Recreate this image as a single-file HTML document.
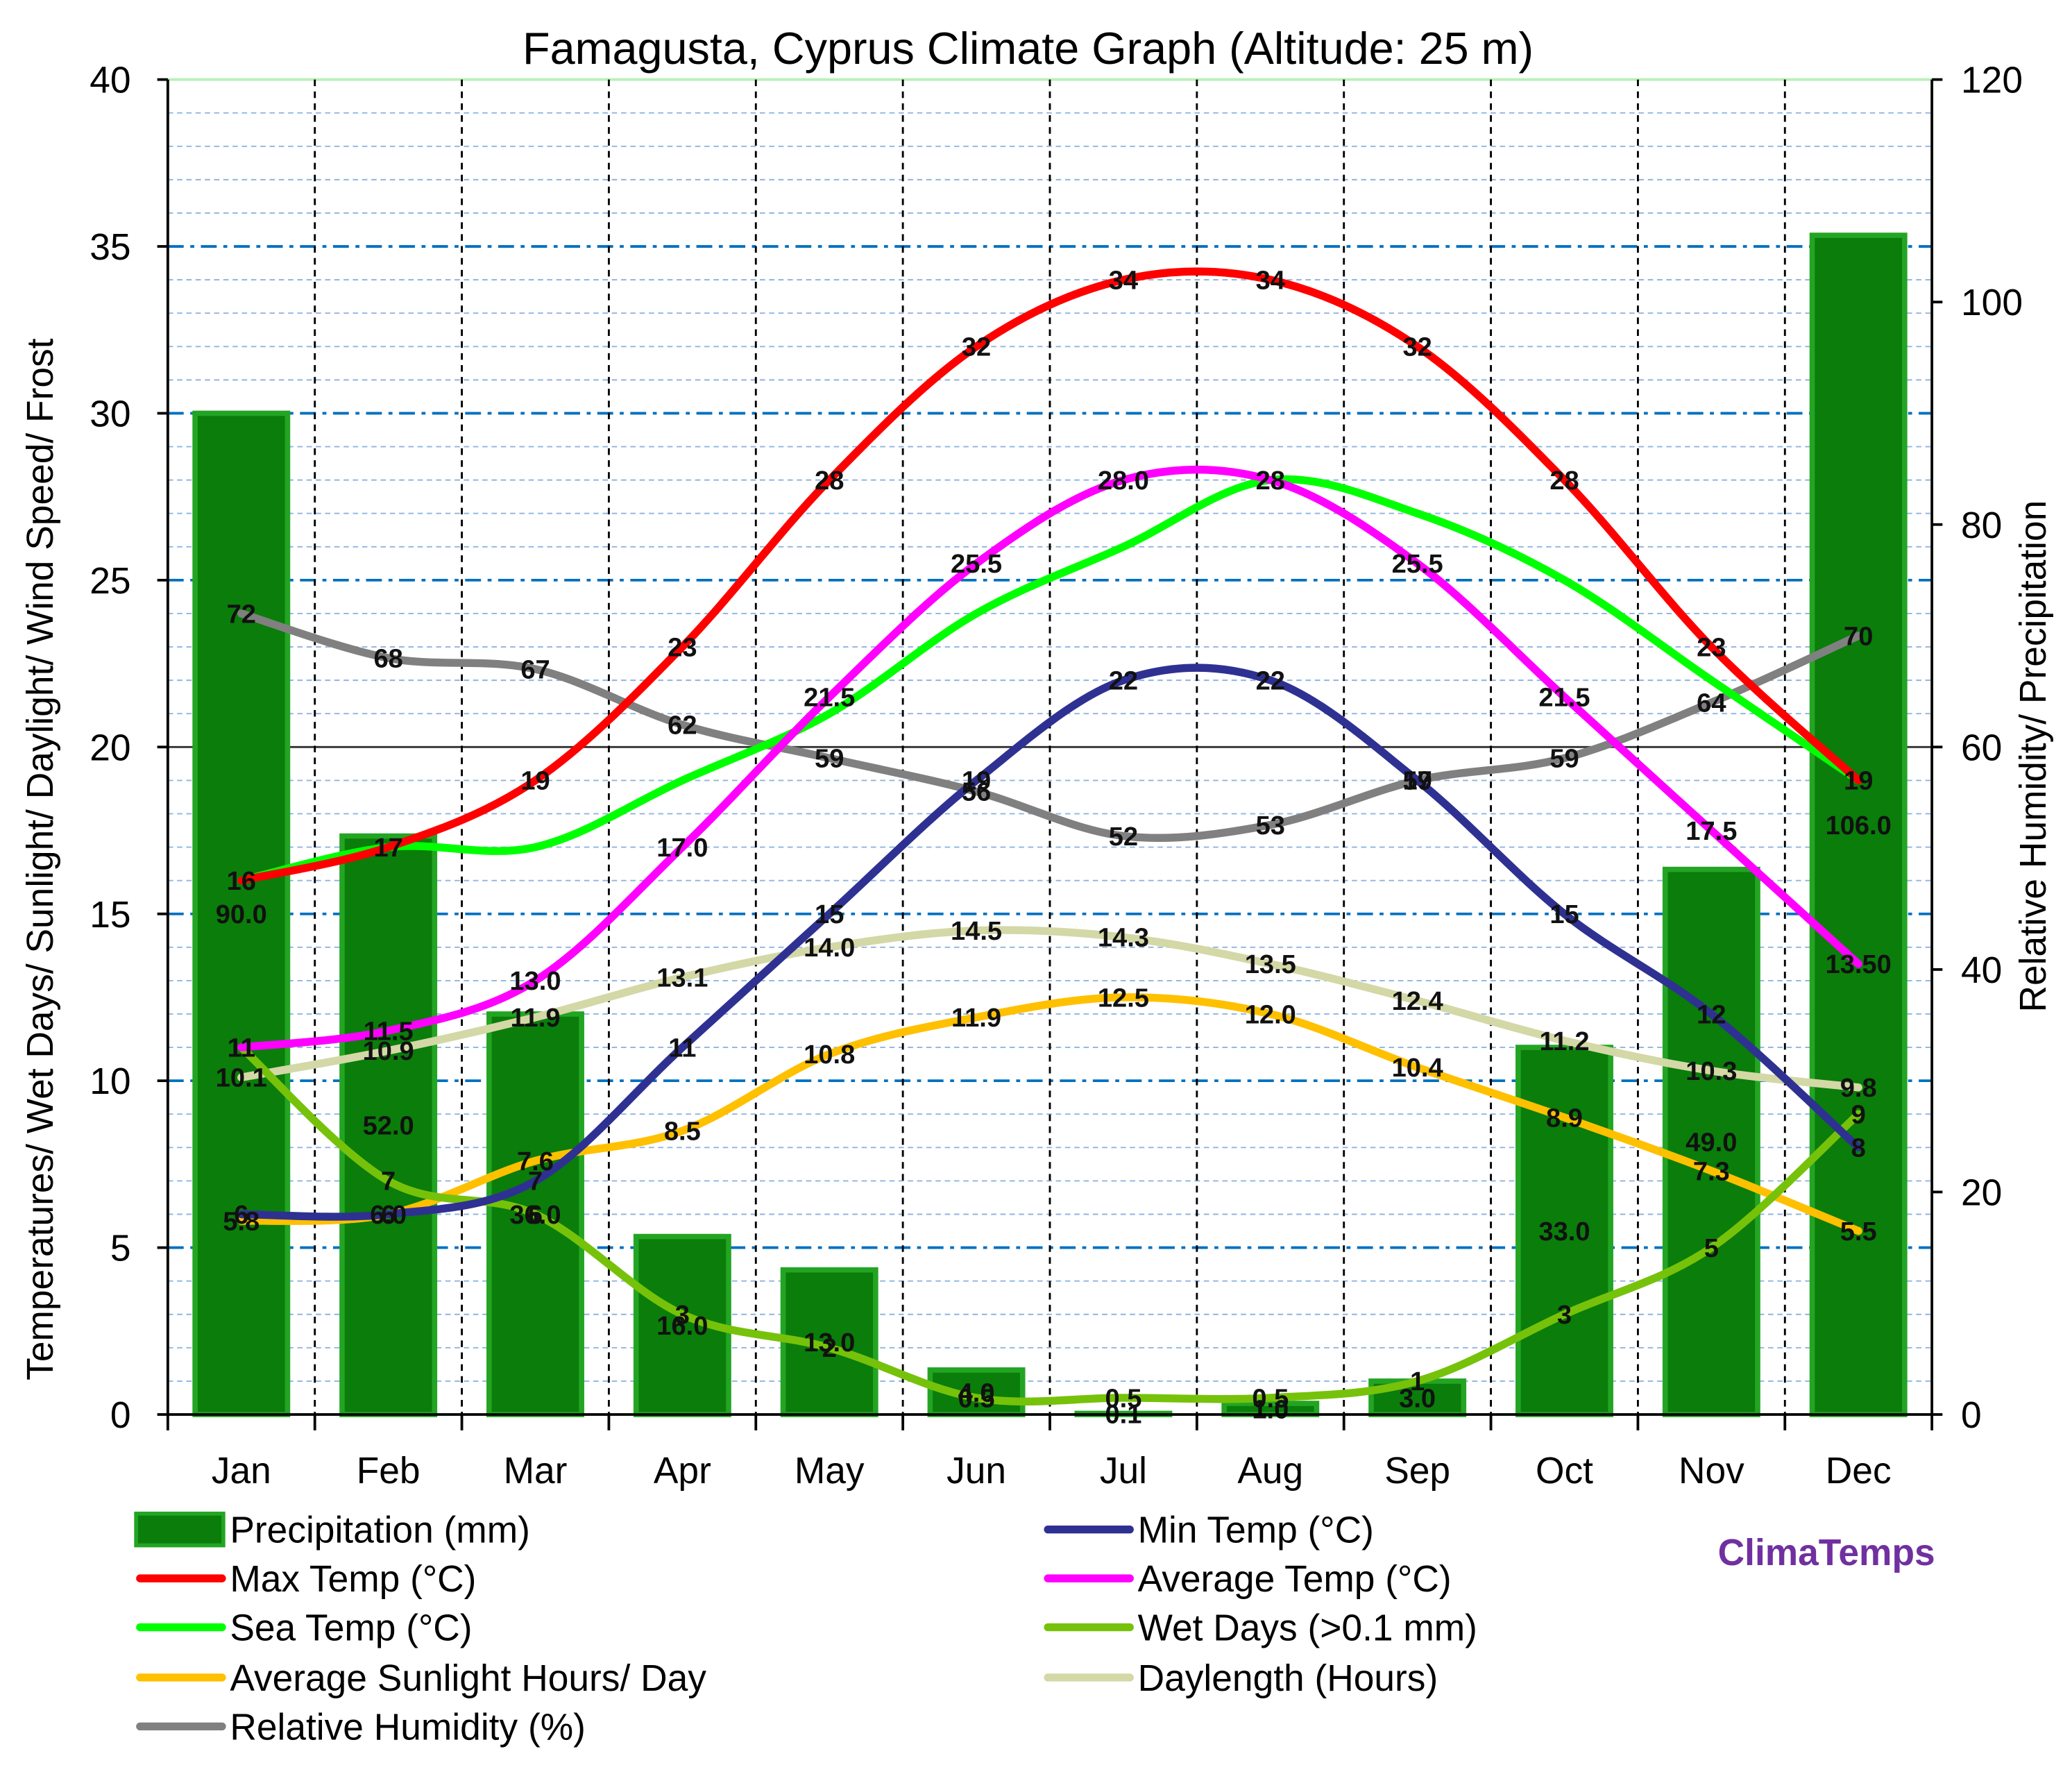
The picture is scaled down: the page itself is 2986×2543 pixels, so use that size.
<!DOCTYPE html>
<html><head><meta charset="utf-8"><style>
html,body{margin:0;padding:0;background:#fff}
svg{display:block}
text{font-family:"Liberation Sans","DejaVu Sans",sans-serif}
</style></head><body>
<svg id="chart" width="2986" height="2543" viewBox="0 0 1568 1335" xmlns="http://www.w3.org/2000/svg">
<rect x="0" y="0" width="1568" height="1335" fill="#fff"/>
<text x="778" y="48" font-size="34" text-anchor="middle" fill="#000">Famagusta, Cyprus Climate Graph (Altitude: 25 m)</text>
<g id="grid"></g><g id="bars"></g><g id="lines"></g><g id="labels"></g><g id="axes"></g>
<text transform="translate(40,650) rotate(-90)" font-size="28" text-anchor="middle">Temperatures/ Wet Days/ Sunlight/ Daylight/ Wind Speed/ Frost</text>
<text transform="translate(1548,572) rotate(-90)" font-size="28" text-anchor="middle">Relative Humidity/ Precipitation</text>
<g id="legend"></g>
<text x="1300" y="1184" font-size="28" font-weight="bold" fill="#7030a0">ClimaTemps</text>
</svg>
<script>
const months=["Jan","Feb","Mar","Apr","May","Jun","Jul","Aug","Sep","Oct","Nov","Dec"];
const precip=[90,52,36,16,13,4,0.1,1,3,33,49,106];
const maxT=[16,17,19,23,28,32,34,34,32,28,23,19];
const minT=[6,6,7,11,15,19,22,22,19,15,12,8];
const avgT=[11,11.5,13.0,17.0,21.5,25.5,28.0,28,25.5,21.5,17.5,13.5];
const seaT=[16,17,17,19,21,24,26,28,27,25,22,19];
const wetDays=[11,7,6,3,2,0.5,0.5,0.5,1,3,5,9];
const sunHours=[5.8,6.0,7.6,8.5,10.8,11.9,12.5,12.0,10.4,8.9,7.3,5.5];
const dayLength=[10.1,10.9,11.9,13.1,14.0,14.5,14.3,13.5,12.4,11.2,10.3,9.8];
const humidity=[72,68,67,62,59,56,52,53,57,59,64,70];
const leftTicks=[0,5,10,15,20,25,30,35,40];
const rightTicks=[0,20,40,60,80,100,120];

const NS="http://www.w3.org/2000/svg";
const L=127,R=1462,T=60,B=1070,CW=(R-L)/12;
const xc=i=>L+CW*(i+0.5);
const yl=v=>B-(v/40)*(B-T);
const yr=v=>B-(v/120)*(B-T);
function mk(tag,attrs,parent,txt){const e=document.createElementNS(NS,tag);for(const k in attrs)e.setAttribute(k,attrs[k]);if(txt!==undefined)e.textContent=txt;parent.appendChild(e);return e;}
const grid=document.getElementById('grid'),bars=document.getElementById('bars'),lines=document.getElementById('lines'),labels=document.getElementById('labels'),axes=document.getElementById('axes'),legend=document.getElementById('legend');

mk('rect',{x:L,y:T,width:R-L,height:B-T,fill:'none',stroke:'#b8f0b8','stroke-width':2},grid);
for(let v=1;v<40;v++){
  const y=yl(v);
  let g;
  if(v===20) g=mk('line',{x1:L,x2:R,y1:y,y2:y,stroke:'#333','stroke-width':1.5},grid);
  else if(v%5===0) g=mk('line',{x1:L,x2:R,y1:y,y2:y,stroke:'#0070c0','stroke-width':2,'stroke-dasharray':'12,5,3,5'},grid);
  else g=mk('line',{x1:L,x2:R,y1:y,y2:y,stroke:'#8fb4e0','stroke-width':1,'stroke-dasharray':'4,3'},grid);
  
  
}
for(let i=1;i<12;i++){
  const x=L+CW*i;
  const g=mk('line',{x1:x,x2:x,y1:T,y2:B,stroke:'#000','stroke-width':1.5,'stroke-dasharray':'5,4'},grid);
  
  
}

precip.forEach((p,i)=>{
  const y=yr(p);
  const r=mk('rect',{x:xc(i)-35,y:y,width:70,height:B-y,fill:'#0a7d0a',stroke:'#23a523','stroke-width':4},bars);
  
  
});

function smooth(pts){
  let d='M'+pts[0][0]+','+pts[0][1];
  for(let i=0;i<pts.length-1;i++){
    const p0=pts[i-1]||pts[i],p1=pts[i],p2=pts[i+1],p3=pts[i+2]||p2;
    const t=6;
    d+=' C'+(p1[0]+(p2[0]-p0[0])/t)+','+(p1[1]+(p2[1]-p0[1])/t)+' '+(p2[0]-(p3[0]-p1[0])/t)+','+(p2[1]-(p3[1]-p1[1])/t)+' '+p2[0]+','+p2[1];
  }
  return d;
}
const series=[
 {name:'humidity-line',data:humidity,color:'#808080',right:true,fmt:v=>String(v)},
 {name:'daylength-line',data:dayLength,color:'#d3d8a6',fmt:v=>v.toFixed(1)},
 {name:'sunlight-line',data:sunHours,color:'#ffc000',fmt:v=>v.toFixed(1)},
 {name:'wet-days-line',data:wetDays,color:'#76c20a',fmt:v=>String(v)},
 {name:'sea-temp-line',data:seaT,color:'#00ff00',fmt:null},
 {name:'avg-temp-line',data:avgT,color:'#ff00ff',fmt:(v,i)=>i<2||i===7?String(v):(i===11?v.toFixed(2):v.toFixed(1))},
 {name:'min-temp-line',data:minT,color:'#2e3192',fmt:v=>String(v)},
 {name:'max-temp-line',data:maxT,color:'#ff0000',fmt:v=>String(v)}
];
series.forEach(s=>{
  const pts=s.data.map((v,i)=>[xc(i),s.right?yr(v):yl(v)]);
  const p=mk('path',{d:smooth(pts),fill:'none',stroke:s.color,'stroke-width':6,'stroke-linecap':'round'},lines);
  
  
  if(s.fmt){
    s.data.forEach((v,i)=>{
      const t=mk('text',{x:xc(i),y:pts[i][1]+7,'font-size':20,'font-weight':'bold','text-anchor':'middle',fill:'#111'},labels,s.fmt(v,i));
      
      
    });
  }
});
precip.forEach((p,i)=>{
  const t=mk('text',{x:xc(i),y:yr(p/2)+7,'font-size':20,'font-weight':'bold','text-anchor':'middle',fill:'#111'},labels,p.toFixed(1));
  
  
});

mk('line',{x1:L,x2:L,y1:T,y2:B,stroke:'#000','stroke-width':2},axes);
mk('line',{x1:R,x2:R,y1:T,y2:B,stroke:'#000','stroke-width':2},axes);
mk('line',{x1:L,x2:R,y1:B,y2:B,stroke:'#000','stroke-width':2},axes);
leftTicks.forEach(v=>{
  mk('line',{x1:L-8,x2:L,y1:yl(v),y2:yl(v),stroke:'#000','stroke-width':2},axes);
  const t=mk('text',{x:L-28,y:yl(v)+10,'font-size':28,'text-anchor':'end'},axes,String(v));
  
  
});
rightTicks.forEach(v=>{
  mk('line',{x1:R,x2:R+8,y1:yr(v),y2:yr(v),stroke:'#000','stroke-width':2},axes);
  const t=mk('text',{x:R+22,y:yr(v)+10,'font-size':28,'text-anchor':'start'},axes,String(v));
  
  
});
for(let i=0;i<=12;i++){const x=L+CW*i;mk('line',{x1:x,x2:x,y1:B,y2:B+12,stroke:'#000','stroke-width':2},axes);}
months.forEach((m,i)=>{
  const t=mk('text',{x:xc(i),y:1122,'font-size':28,'text-anchor':'middle'},axes,m);
  
  
});

const leg=[
 ['Precipitation (mm)','#0a7d0a',103,1157,true],
 ['Max Temp (°C)','#ff0000',103,1194],
 ['Sea Temp (°C)','#00ff00',103,1231],
 ['Average Sunlight Hours/ Day','#ffc000',103,1269],
 ['Relative Humidity (%)','#808080',103,1306],
 ['Min Temp (°C)','#2e3192',790,1157],
 ['Average Temp (°C)','#ff00ff',790,1194],
 ['Wet Days (>0.1 mm)','#76c20a',790,1231],
 ['Daylength (Hours)','#d3d8a6',790,1269]
];
leg.forEach(e=>{
  const g=mk('g',{},legend);
  
  
  if(e[4]) mk('rect',{x:e[2],y:e[3]-12,width:66,height:24,fill:'#0a7d0a',stroke:'#23a523','stroke-width':3},g);
  else mk('line',{x1:e[2]+3,x2:e[2]+65,y1:e[3],y2:e[3],stroke:e[1],'stroke-width':6,'stroke-linecap':'round'},g);
  mk('text',{x:e[2]+71,y:e[3]+10,'font-size':28},g,e[0]);
});
</script>
</body></html>
